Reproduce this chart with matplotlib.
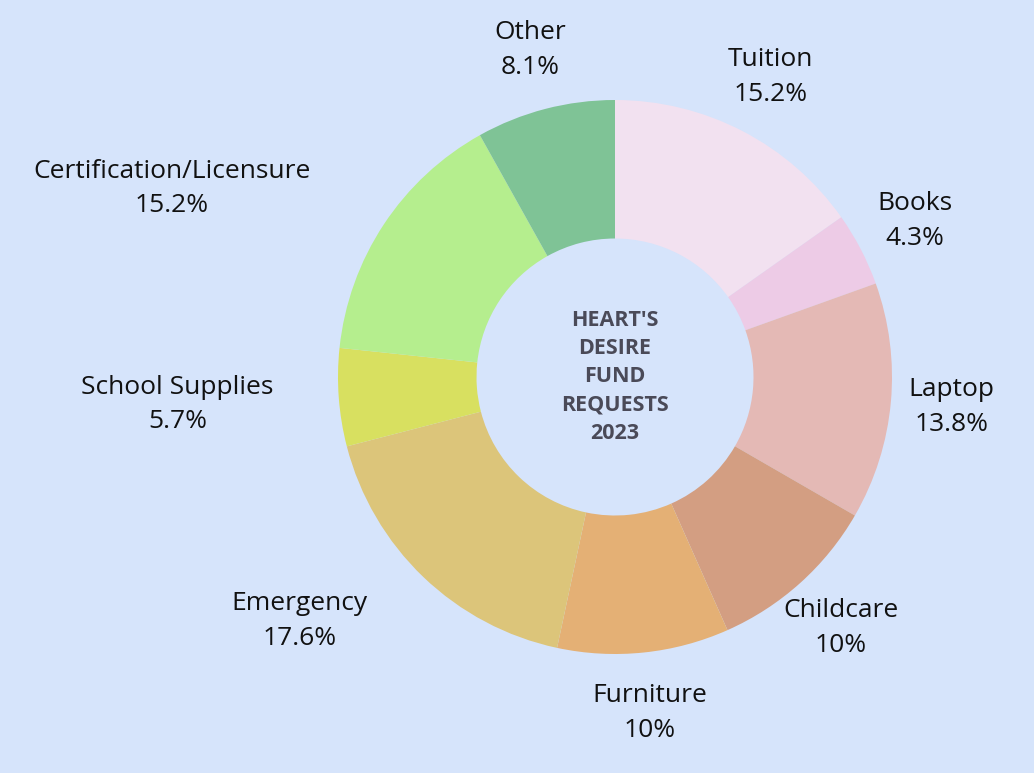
import matplotlib
matplotlib.use("Agg")
import matplotlib.pyplot as plt

categories = ["Tuition", "Books", "Laptop", "Childcare", "Furniture", "Emergency",
              "School Supplies", "Certification/Licensure", "Other"]
values = [15.2, 4.3, 13.8, 10, 10, 17.6, 5.7, 15.2, 8.1]
pct_labels = ["15.2%", "4.3%", "13.8%", "10%", "10%", "17.6%", "5.7%", "15.2%", "8.1%"]
colors = ["#F2E1F0", "#EDCBE6", "#E4B9B5", "#D39E82", "#E4B075", "#DCC57A",
          "#D8E060", "#B5EE8E", "#7FC396"]
bg = "#D6E4FB"

fig = plt.figure(figsize=(10.34, 7.73), dpi=100, facecolor=bg)
R = 277
lim = 1.5
ax = fig.add_axes([(615 - lim * R) / 1034, (396 - lim * R) / 773,
                   2 * lim * R / 1034, 2 * lim * R / 773])
ax.set_facecolor(bg)
ax.axis("off")

labels = [f"{c}\n{p}" for c, p in zip(categories, pct_labels)]
wedges, texts = ax.pie(values, colors=colors, startangle=90, counterclock=False,
                       labels=labels, labeldistance=1.22,
                       wedgeprops=dict(width=0.5, linewidth=0),
                       textprops=dict(fontsize=19, family="Open Sans", color="#111111",
                                      ha="center", va="center", linespacing=1.5))
for t in texts:
    t.set_horizontalalignment("center")
# Adjust spread-out labels on the left side as in reference
for t in texts:
    if t.get_text().startswith("Certification"):
        t.set_position((-1.6, 0.68))
    if t.get_text().startswith("Emergency"):
        t.set_position((-1.14, -0.88))
    if t.get_text().startswith("School"):
        t.set_position((-1.58, -0.1))

ax.text(0, 0, "HEART'S\nDESIRE\nFUND\nREQUESTS\n2023", ha="center", va="center",
        fontsize=15.5, fontweight="bold", family="Open Sans", color="#4A4A58",
        linespacing=1.45)
ax.set_xlim(-lim, lim)
ax.set_ylim(-lim, lim)
ax.set_aspect("equal")
fig.savefig("out.png", dpi=100, facecolor=bg)
